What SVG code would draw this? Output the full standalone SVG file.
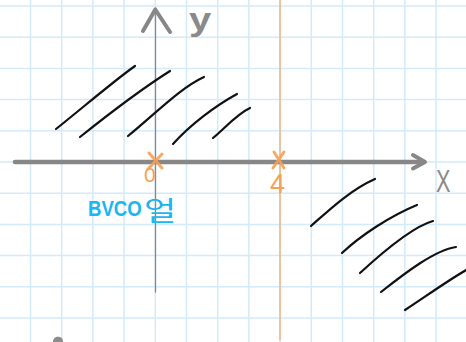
<svg xmlns="http://www.w3.org/2000/svg" width="466" height="342" viewBox="0 0 466 342">
<defs>
<style>
.grid line{stroke:#d2eaf9;stroke-width:1.5}
.axis{stroke:#878787;fill:none;stroke-linecap:round;stroke-linejoin:round}
.hatch path{stroke:#111;stroke-width:2.2;fill:none;stroke-linecap:round}
.orange{stroke:#f6a055;fill:none;stroke-linecap:round}
.otext{fill:#f6a055;font-family:"Liberation Sans",sans-serif}
.gtext{fill:#8a8a8a;font-family:"Liberation Sans",sans-serif}
.btext{fill:#1ab6ee}
</style>
</defs>
<rect width="466" height="342" fill="#ffffff"/>
<g id="grid" class="grid">
<line x1="30.5" y1="0" x2="30.5" y2="342"/>
<line x1="61.7" y1="0" x2="61.7" y2="342"/>
<line x1="92.9" y1="0" x2="92.9" y2="342"/>
<line x1="124.1" y1="0" x2="124.1" y2="342"/>
<line x1="155.3" y1="0" x2="155.3" y2="342"/>
<line x1="186.5" y1="0" x2="186.5" y2="342"/>
<line x1="217.7" y1="0" x2="217.7" y2="342"/>
<line x1="248.9" y1="0" x2="248.9" y2="342"/>
<line x1="280.1" y1="0" x2="280.1" y2="342"/>
<line x1="311.3" y1="0" x2="311.3" y2="342"/>
<line x1="342.5" y1="0" x2="342.5" y2="342"/>
<line x1="373.7" y1="0" x2="373.7" y2="342"/>
<line x1="404.9" y1="0" x2="404.9" y2="342"/>
<line x1="436.1" y1="0" x2="436.1" y2="342"/>
<line x1="0" y1="6" x2="466" y2="6"/>
<line x1="0" y1="37.2" x2="466" y2="37.2"/>
<line x1="0" y1="68.4" x2="466" y2="68.4"/>
<line x1="0" y1="99.6" x2="466" y2="99.6"/>
<line x1="0" y1="130.8" x2="466" y2="130.8"/>
<line x1="0" y1="162" x2="466" y2="162"/>
<line x1="0" y1="193.2" x2="466" y2="193.2"/>
<line x1="0" y1="224.4" x2="466" y2="224.4"/>
<line x1="0" y1="255.6" x2="466" y2="255.6"/>
<line x1="0" y1="286.8" x2="466" y2="286.8"/>
<line x1="0" y1="318" x2="466" y2="318"/>
</g>
<g id="orange-line">
<line class="orange" x1="280" y1="0" x2="280" y2="340" stroke-width="1.3" opacity="0.85"/>
</g>
<g id="axes">
<line class="axis" x1="155.5" y1="8" x2="155.5" y2="292" stroke-width="1.3"/>
<polyline class="axis" points="143,31 155.3,9.5 170,32" stroke-width="4"/>
<line class="axis" x1="15" y1="162" x2="423" y2="162" stroke-width="4.5"/>
<polyline class="axis" points="413,155 425,162 413,168.5" stroke-width="4"/>
<text class="gtext" x="0" y="0" font-size="32" font-weight="bold" transform="translate(189 30) scale(1.25 1)">y</text>
<text class="gtext" x="436" y="192" font-size="32" transform="translate(436 0) scale(0.68 1) translate(-436 0)">X</text>
</g>
<g id="hatch" class="hatch">
<path d="M56,129 C80,110 115,80 135,66"/>
<path d="M80,137 C110,113 140,90 170,71"/>
<path d="M128,136 C155,114 180,88 204,77"/>
<path d="M173,144 C190,125 215,106 237,94"/>
<path d="M213,138 C225,128 237,114 250,108"/>
<path d="M311,226 C328,211 350,190 375,179"/>
<path d="M342,253 C360,236 390,216 417,205"/>
<path d="M360,273 C385,250 415,226 433,221"/>
<path d="M381,292 C405,273 435,250 456,247"/>
<path d="M405,310 C425,297 450,279 468,269"/>
</g>
<g id="markers">
<path class="orange" d="M149,153 L162,168 M162,154 L148,169" stroke-width="3" opacity="0.9"/>
<text class="otext" x="144" y="182" font-size="21">0</text>
<path class="orange" d="M274,152 L284,168 M284,152 L273,168" stroke-width="3" opacity="0.9"/>
<text class="otext" x="270" y="193" font-size="27">4</text>
</g>
<g id="label">
<text class="btext" x="0" y="0" font-family="'Liberation Sans',sans-serif" font-weight="bold" font-size="23" transform="translate(88 216) scale(0.81 1)">BVCO</text>
<text class="btext" x="0" y="0" font-family="'Noto Sans CJK KR',sans-serif" font-size="27" transform="translate(144 221) scale(1.3 1)">얼</text>
</g>
<path d="M53,342 C53,337 57,336 60,337 C63,338 63,341 63,342 Z" fill="#8c8c8c"/>
</svg>
